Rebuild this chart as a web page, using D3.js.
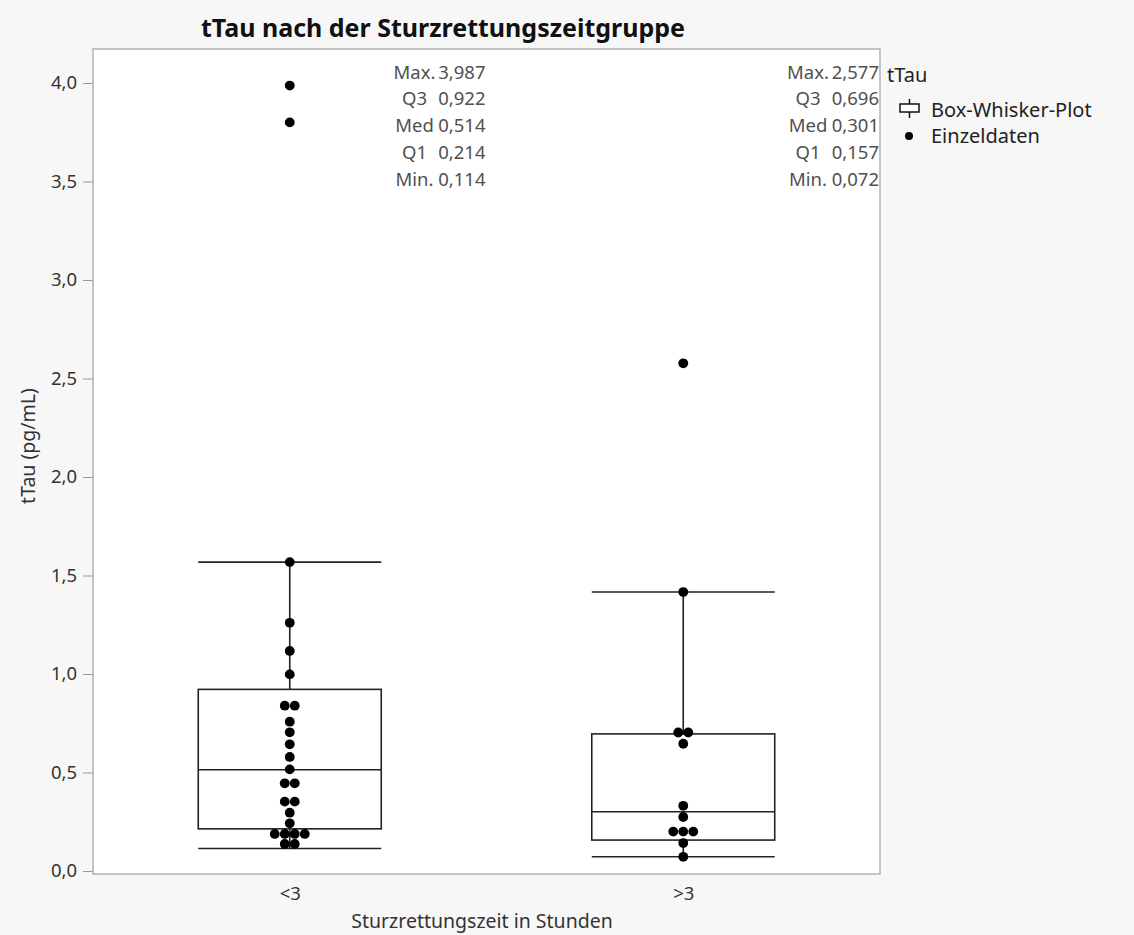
<!DOCTYPE html>
<html>
<head>
<meta charset="utf-8">
<script src="https://cdn.jsdelivr.net/npm/d3@7"></script>
<style>
  body { margin: 0; background: #f7f7f7; }
  svg { display: block; font-family: 'Noto Sans', 'Open Sans', sans-serif; }
</style>
</head>
<body>
<script>
const groups = ['<3', '>3'];
const statLabels = ['Max.', 'Q3', 'Med', 'Q1', 'Min.'];
// Max, Q3, Med, Q1, Min per group
const statsLt3 = [3.987, 0.922, 0.514, 0.214, 0.114];
const statsGt3 = [2.577, 0.696, 0.301, 0.157, 0.072];
// upper whisker ends (largest point inside the fence)
const whiskerTop = [1.568, 1.416];

// single values
const pointsLt3 = [
  3.987, 3.8, 1.568, 1.26, 1.117, 0.998, 0.839, 0.839, 0.758, 0.704, 0.643,
  0.579, 0.516, 0.445, 0.445, 0.352, 0.352, 0.296, 0.242, 0.188, 0.188,
  0.188, 0.188, 0.137, 0.137,
];
const pointsGt3 = [
  2.577, 1.416, 0.703, 0.703, 0.646, 0.331, 0.274, 0.2, 0.2, 0.2, 0.142, 0.072,
];

const yTicks = [0, 0.5, 1, 1.5, 2, 2.5, 3, 3.5, 4];

const w = 1134;
const h = 935;
const plotLeft = 93;
const plotRight = 880;
const plotTop = 49;
const plotBottom = 874;

const de = d3.formatLocale({
  decimal: ',',
  thousands: '.',
  grouping: [3],
  currency: ['', ' €'],
});
const f1 = de.format('.1f');
const f3 = de.format('.3f');

const svg = d3.select('body').append('svg').attr('width', w).attr('height', h);

// plot area
svg
  .append('rect')
  .attr('x', plotLeft)
  .attr('y', plotTop)
  .attr('width', plotRight - plotLeft)
  .attr('height', plotBottom - plotTop)
  .attr('fill', '#fff')
  .attr('stroke', '#b4b4b4')
  .attr('stroke-width', 1.5);

const x = d3.scalePoint().domain(groups).range([plotLeft, plotRight]).padding(0.5);
const y = d3.scaleLinear().domain([0, 4]).range([871, 83]);
const boxW = x.step() * 0.465;

// y axis
const yAxis = d3
  .axisLeft(y)
  .tickValues(yTicks)
  .tickFormat(f1)
  .tickSize(10)
  .tickPadding(6);

const gy = svg
  .append('g')
  .attr('transform', `translate(${plotLeft},0)`)
  .call(yAxis)
  .attr('font-family', null)
  .attr('font-size', null);
gy.select('.domain').remove();
gy.selectAll('line').attr('stroke', '#999');
gy.selectAll('text')
  .style('font-size', '18.5px')
  .attr('fill', '#333');

// x axis
const gx = svg
  .append('g')
  .attr('transform', `translate(0,${plotBottom})`)
  .call(d3.axisBottom(x).tickSize(0).tickPadding(13))
  .attr('font-family', null)
  .attr('font-size', null);
gx.select('.domain').remove();
gx.selectAll('text')
  .style('font-size', '18.5px')
  .attr('fill', '#333');

// titles
svg
  .append('text')
  .attr('x', 443)
  .attr('y', 37)
  .attr('text-anchor', 'middle')
  .style('font-size', '25px')
  .style('font-weight', 'bold')
  .attr('fill', '#111')
  .text('tTau nach der Sturzrettungszeitgruppe');

svg
  .append('text')
  .attr('transform', 'translate(35,446) rotate(-90)')
  .attr('text-anchor', 'middle')
  .style('font-size', '19.5px')
  .attr('fill', '#333')
  .text('tTau (pg/mL)');

svg
  .append('text')
  .attr('x', 482)
  .attr('y', 928)
  .attr('text-anchor', 'middle')
  .style('font-size', '19.5px')
  .attr('fill', '#333')
  .text('Sturzrettungszeit in Stunden');

// box plots
const stats = [statsLt3, statsGt3];
const points = [pointsLt3, pointsGt3];

groups.forEach((g, gi) => {
  const s = stats[gi];
  const cx = x(g);
  const bg = svg.append('g').attr('fill', 'none').attr('stroke', '#222').attr('stroke-width', 1.6);

  // whisker stem
  bg.append('line')
    .attr('x1', cx)
    .attr('x2', cx)
    .attr('y1', y(whiskerTop[gi]))
    .attr('y2', y(s[1]));
  bg.append('line')
    .attr('x1', cx)
    .attr('x2', cx)
    .attr('y1', y(s[3]))
    .attr('y2', y(s[4]));

  // whisker caps span the whole box
  [whiskerTop[gi], s[4]].forEach((v) => {
    bg.append('line')
      .attr('x1', cx - boxW / 2)
      .attr('x2', cx + boxW / 2)
      .attr('y1', y(v))
      .attr('y2', y(v));
  });

  bg.append('rect')
    .attr('x', cx - boxW / 2)
    .attr('y', y(s[1]))
    .attr('width', boxW)
    .attr('height', y(s[3]) - y(s[1]));

  bg.append('line')
    .attr('x1', cx - boxW / 2)
    .attr('x2', cx + boxW / 2)
    .attr('y1', y(s[2]))
    .attr('y2', y(s[2]));

  // dots, equal values placed side by side
  const counts = d3.rollup(points[gi], (v) => v.length, (d) => d);
  const seen = new Map();
  const dots = points[gi].map((v) => {
    const n = counts.get(v);
    const k = seen.get(v) || 0;
    seen.set(v, k + 1);
    return { v, off: (k - (n - 1) / 2) * 10 };
  });

  svg
    .append('g')
    .selectAll('circle')
    .data(dots)
    .enter()
    .append('circle')
    .attr('cx', (d) => cx + d.off)
    .attr('cy', (d) => y(d.v))
    .attr('r', 4.9)
    .attr('fill', '#000');

  // summary text
  const valEnd = cx + x.step() / 2 - 1;
  const st = svg.append('g').style('font-size', '18.5px').attr('fill', '#505050');
  statLabels.forEach((lab, i) => {
    const yy = 78.5 + i * 26.75;
    st.append('text')
      .attr('x', valEnd - 71)
      .attr('y', yy)
      .attr('text-anchor', 'middle')
      .text(lab);
    st.append('text')
      .attr('x', valEnd)
      .attr('y', yy)
      .attr('text-anchor', 'end')
      .text(f3(s[i]));
  });
});

// legend
const lg = svg.append('g').style('font-size', '20px').attr('fill', '#222');
lg.append('text').attr('x', 887).attr('y', 82).text('tTau');

const icon = lg.append('g').attr('fill', 'none').attr('stroke', '#111').attr('stroke-width', 1.5);
icon.append('rect').attr('x', 900).attr('y', 104).attr('width', 19).attr('height', 8).attr('fill', '#fff');
icon.append('line').attr('x1', 909.5).attr('x2', 909.5).attr('y1', 99).attr('y2', 104);
icon.append('line').attr('x1', 909.5).attr('x2', 909.5).attr('y1', 112).attr('y2', 118);
lg.append('text').attr('x', 931).attr('y', 117).text('Box-Whisker-Plot');

lg.append('circle').attr('cx', 909).attr('cy', 136).attr('r', 4).attr('fill', '#000');
lg.append('text').attr('x', 931).attr('y', 143).text('Einzeldaten');
</script>
</body>
</html>
